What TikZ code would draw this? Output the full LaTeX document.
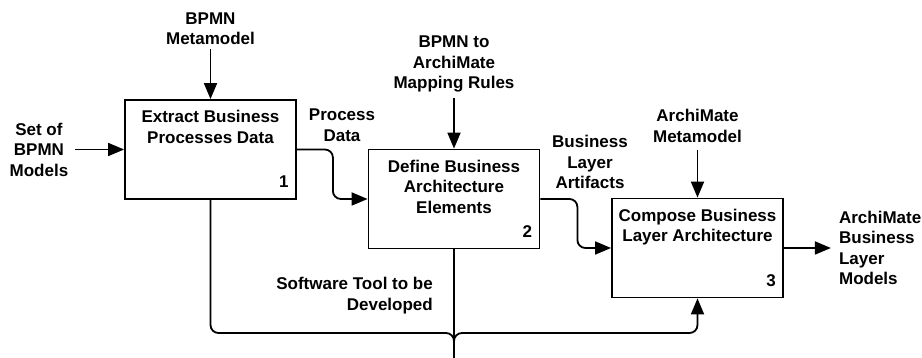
\documentclass[tikz,border=0pt]{standalone}
\usepackage{fontspec}
\setmainfont{Liberation Sans}
\usetikzlibrary{arrows.meta,positioning}

\begin{document}
\begin{tikzpicture}[x=1pt,y=1pt,
    font=\fontsize{17}{20.5}\selectfont\bfseries,
    box/.style={draw,line width=1.8pt,minimum width=171pt,minimum height=99pt,inner sep=0pt},
    title/.style={anchor=north,align=center,inner sep=0pt,yshift=-11pt},
    num/.style={anchor=base east,inner sep=0pt},
    lbl/.style={align=center,inner sep=0pt},
    flow/.style={line width=1.8pt,-{Triangle[length=16pt,width=13pt]}},
    wire/.style={line width=1.8pt},
    elbow/.style={rounded corners=8pt}]

    \useasboundingbox (0,0) rectangle (922,358);

    % Activity boxes
    \node[box] (b1) at (210.5,208.5) {};
    \node[box] (b2) at (454,159) {};
    \node[box] (b3) at (697.5,110) {};

    % Titles and numbers
    \node[title] (t1) at (b1.north) {Extract Business\\Processes Data};
    \node[title] (t2) at (b2.north) {Define Business\\Architecture\\Elements};
    \node[title] (t3) at (b3.north) {Compose Business\\Layer Architecture};
    \node[num] (n1) at ([xshift=-8pt,yshift=12pt]b1.south east) {1};
    \node[num] (n2) at ([xshift=-8pt,yshift=12pt]b2.south east) {2};
    \node[num] (n3) at ([xshift=-8pt,yshift=12pt]b3.south east) {3};

    % Controls
    \node[lbl,above=54pt of b1] (c1) {BPMN\\Metamodel};
    \node[lbl,above=56pt of b2] (c2) {BPMN to\\ArchiMate\\Mapping Rules};
    \node[lbl,above=55pt of b3] (c3) {ArchiMate\\Metamodel};
    \draw[flow,shorten <=4pt] (c1.south) -- (b1.north);
    \draw[flow,shorten <=5pt] (c2.south) -- (b2.north);
    \draw[flow,shorten <=7pt] (c3.south) -- (b3.north);

    % Input and output
    \node[lbl,left=55.7pt of b1] (in1) {Set of\\BPMN\\Models};
    \node[lbl,align=left,right=55pt of b3] (out1) {ArchiMate\\Business\\Layer\\Models};
    \draw[flow,shorten <=7pt] (in1.east) -- (b1.west);
    \draw[flow,shorten >=8pt] (b3.east) -- (out1.west);

    % Flows between boxes
    \draw[flow,elbow] (b1.east) -- ++(36,0) |- (b2.west);
    \draw[flow,elbow] (b2.east) -- ++(37,0) |- (b3.west);
    \node[lbl] (l1) at (342,233) {Process\\Data};
    \node[lbl] (l2) at (590,196) {Business\\Layer\\Artifacts};

    % Mechanism
    \coordinate (mech) at (454,0);
    \coordinate (junc) at (454,25);
    \draw[wire] (mech) -- (b2.south);
    \draw[wire,elbow] (mech) -- (junc) -| (b1.south);
    \draw[flow,elbow] (mech) -- (junc) -| (b3.south);
    \node[lbl,align=right,anchor=east] (m1) at (433,62.5) {Software Tool to be\\Developed};

\end{tikzpicture}
\end{document}
